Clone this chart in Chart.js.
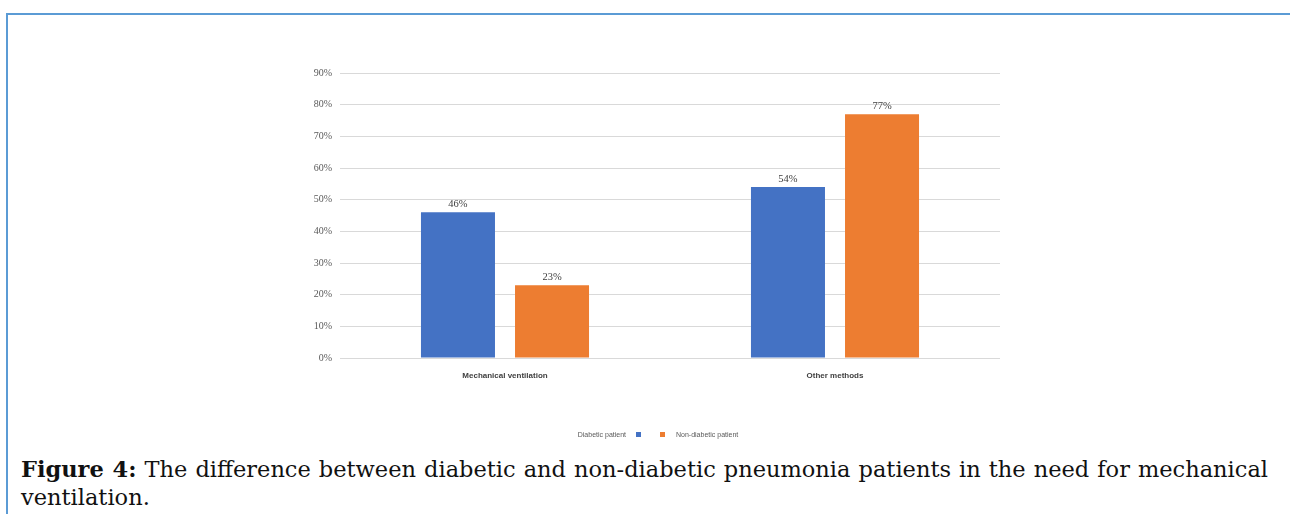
<!DOCTYPE html>
<html>
<head>
<meta charset="utf-8">
<script src="https://cdn.jsdelivr.net/npm/chart.js@4"></script>
<style>
  body { margin: 0; background: #fff; width: 1290px; height: 514px; overflow: hidden; position: relative; }
  .frame { position: absolute; left: 6px; top: 13px; right: 0; bottom: 0; border-top: 2px solid #5b9bd5; border-left: 2px solid #5b9bd5; }
  #chart { position: absolute; left: 0; top: 0; filter: blur(0.4px); }
  .caption { position: absolute; left: 21px; top: 455px; width: 1247px; font-family: "DejaVu Serif", serif; font-size: 22.5px; line-height: 28px; color: #111; text-align: justify; }
  .caption b { font-weight: bold; }
</style>
</head>
<body>
<div class="frame"></div>
<canvas id="chart" width="1290" height="445"></canvas>
<div class="caption"><b>Figure 4:</b> The difference between diabetic and non-diabetic pneumonia patients in the need for mechanical ventilation.</div>
<script>
// Share of patients per ventilation type
const categories = ['Mechanical ventilation', 'Other methods'];
const seriesNames = ['Diabetic patient', 'Non-diabetic patient'];
const diabetic = [46, 54];
const nonDiabetic = [23, 77];
const seriesColors = ['#4472c4', '#ed7d31'];

// values printed above each bar
const valueLabels = {
    id: 'valueLabels',
    afterDatasetsDraw(chart) {
        const ctx = chart.ctx;
        ctx.save();
        ctx.font = '10.5px "Liberation Serif", serif';
        ctx.fillStyle = '#404040';
        ctx.textAlign = 'center';
        ctx.textBaseline = 'bottom';
        chart.data.datasets.forEach((ds, i) => {
            chart.getDatasetMeta(i).data.forEach((bar, j) => {
                ctx.fillText(ds.data[j] + '%', bar.x, bar.y - 3);
            });
        });
        ctx.restore();
    }
};

// legend: first label sits left of its swatch, second right of it
const sideLegend = {
    id: 'sideLegend',
    afterDraw(chart) {
        const ctx = chart.ctx;
        const ds = chart.data.datasets;
        const cx = (chart.chartArea.left + chart.chartArea.right) / 2;
        const y = 435;
        ctx.save();
        ctx.font = '7px "Liberation Sans", sans-serif';
        ctx.textBaseline = 'middle';
        ctx.fillStyle = ds[0].backgroundColor;
        ctx.fillRect(cx - 34, y - 3, 5, 5);
        ctx.fillStyle = ds[1].backgroundColor;
        ctx.fillRect(cx - 10, y - 3, 5, 5);
        ctx.fillStyle = '#595959';
        ctx.textAlign = 'right';
        ctx.fillText(ds[0].label, cx - 44, y);
        ctx.textAlign = 'left';
        ctx.fillText(ds[1].label, cx + 6, y);
        ctx.restore();
    }
};

new Chart(document.getElementById('chart'), {
    type: 'bar',
    data: {
        labels: categories,
        datasets: [
            { label: seriesNames[0], data: diabetic, backgroundColor: seriesColors[0] },
            { label: seriesNames[1], data: nonDiabetic, backgroundColor: seriesColors[1] }
        ]
    },
    options: {
        responsive: false,
        animation: false,
        categoryPercentage: 0.57,
        barPercentage: 0.787,
        layout: { padding: { top: 73, right: 290, left: 0, bottom: 0 } },
        scales: {
            x: {
                grid: { display: false },
                border: { display: false },
                ticks: {
                    color: '#404040',
                    padding: 5,
                    font: { family: '"Liberation Sans", sans-serif', size: 8, weight: 'bold' }
                },
                afterFit(scale) { scale.height = 87; }
            },
            y: {
                min: 0,
                max: 90,
                ticks: {
                    stepSize: 10,
                    color: '#595959',
                    padding: 8,
                    font: { family: '"Liberation Serif", serif', size: 10 },
                    callback: v => v + '%'
                },
                grid: { color: '#d9d9d9', drawTicks: false },
                border: { display: false },
                afterFit(scale) { scale.width = 340; }
            }
        },
        plugins: {
            legend: { display: false },
            tooltip: { enabled: false }
        }
    },
    plugins: [valueLabels, sideLegend]
});
</script>
</body>
</html>
